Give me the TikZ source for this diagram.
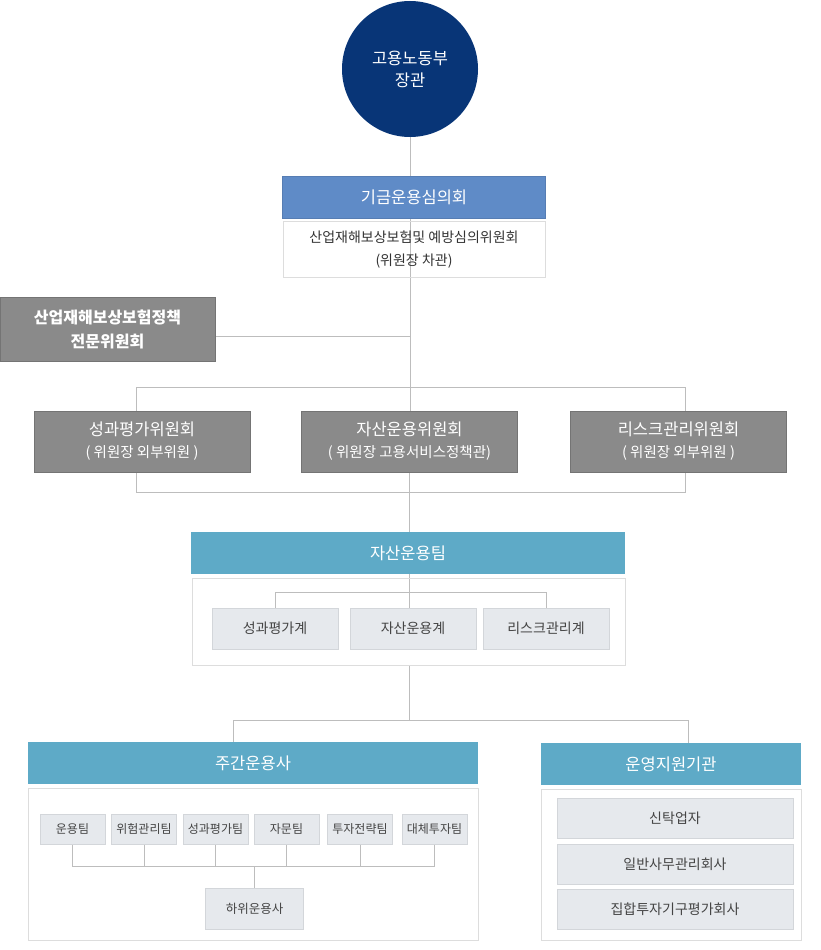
\documentclass[tikz,border=0pt]{standalone}
\usepackage{fontspec}
\setmainfont{Noto Sans CJK KR}
\usetikzlibrary{backgrounds}
\definecolor{navy}{HTML}{083577}
\definecolor{fundblue}{HTML}{5F8BC7}
\definecolor{boxgray}{HTML}{8A8A8A}
\definecolor{edgegray}{HTML}{747474}
\definecolor{tealhead}{HTML}{5EAAC7}
\definecolor{paleface}{HTML}{E6E9ED}
\definecolor{paleedge}{HTML}{D3D6DA}
\definecolor{frameedge}{HTML}{DDDDDD}
\definecolor{linegray}{HTML}{BDBDBD}
\definecolor{textgray}{HTML}{444444}
\begin{document}
\begin{tikzpicture}[x=1pt,y=-1pt,
  head/.style={rectangle,text=white,inner sep=0pt,minimum height=42pt,font=\fontsize{16.5}{20}\selectfont},
  graybox/.style={rectangle,fill=boxgray,draw=edgegray,text=white,align=center,inner sep=0pt,font=\fontsize{16.5}{22}\selectfont},
  framebox/.style={rectangle,draw=frameedge,inner sep=0pt},
  palebox/.style={rectangle,fill=paleface,draw=paleedge,text=textgray,inner sep=0pt,font=\fontsize{14}{16}\selectfont},
  link/.style={draw=linegray,line width=1pt}]
\useasboundingbox (0,0) rectangle (820,950);
\node[circle,fill=navy,minimum size=136pt,inner sep=0pt,text=white,align=center,font=\fontsize{16.5}{22}\selectfont] (minister) at (410,69) {고용노동부\\장관};
\node[head,fill=fundblue,draw=fundblue!90!black,minimum width=263pt] (fund) at (414,197) {기금운용심의회};
\node[framebox,minimum width=262pt,minimum height=56pt,align=center,text=black!80,font=\fontsize{14}{23}\selectfont] (fundsub) at (414,249.5) {산업재해보상보험및 예방심의위원회\\(위원장 차관)};
\node[graybox,font=\fontsize{16}{24}\selectfont\bfseries,minimum width=215pt,minimum height=64pt] (policy) at (107.5,329.5) {산업재해보상보험정책\\전문위원회};
% committees
\node[graybox,minimum width=216pt,minimum height=61pt] (evalc) at (142,441.5) {성과평가위원회\\{\fontsize{14.5}{22}\selectfont ( 위원장 외부위원 )}};
\node[graybox,minimum width=216pt,minimum height=61pt] (assetc) at (409.5,441.5) {자산운용위원회\\{\fontsize{14.5}{22}\selectfont ( 위원장 고용서비스정책관)}};
\node[graybox,minimum width=216pt,minimum height=61pt] (riskc) at (678.5,441.5) {리스크관리위원회\\{\fontsize{14.5}{22}\selectfont ( 위원장 외부위원 )}};
% asset team
\node[head,fill=tealhead,minimum width=434pt] (assetteam) at (408,553) {자산운용팀};
\node[framebox,minimum width=433pt,minimum height=87pt] (teamsub) at (408.5,621.5) {};
\node[palebox,minimum width=126pt,minimum height=41pt] (evalg) at (275,628.5) {성과평가계};
\node[palebox,minimum width=126pt,minimum height=41pt] (assetg) at (413,628.5) {자산운용계};
\node[palebox,minimum width=126pt,minimum height=41pt] (riskg) at (546,628.5) {리스크관리계};
% managers
\node[head,fill=tealhead,minimum width=450pt] (mainmgr) at (253,763) {주간운용사};
\node[head,fill=tealhead,minimum width=260pt] (support) at (671,764) {운영지원기관};
\node[framebox,minimum width=450pt,minimum height=152pt] (mainsub) at (253,864) {};
\node[framebox,minimum width=260pt,minimum height=151pt] (supportsub) at (671,864.5) {};
\node[palebox,font=\fontsize{12}{14}\selectfont,minimum width=65pt,minimum height=30pt] (opteam) at (72.5,829) {운용팀};
\node[palebox,font=\fontsize{12}{14}\selectfont,minimum width=65pt,minimum height=30pt] (riskteam) at (144,829) {위험관리팀};
\node[palebox,font=\fontsize{12}{14}\selectfont,minimum width=65pt,minimum height=30pt] (evalteam) at (215.5,829) {성과평가팀};
\node[palebox,font=\fontsize{12}{14}\selectfont,minimum width=65pt,minimum height=30pt] (advteam) at (286.5,829) {자문팀};
\node[palebox,font=\fontsize{12}{14}\selectfont,minimum width=65pt,minimum height=30pt] (stratteam) at (360,829) {투자전략팀};
\node[palebox,font=\fontsize{12}{14}\selectfont,minimum width=65pt,minimum height=30pt] (altteam) at (434.5,829) {대체투자팀};
\node[palebox,font=\fontsize{12.5}{14}\selectfont,minimum width=98pt,minimum height=41pt] (subco) at (254.5,908.5) {하위운용사};
\node[palebox,minimum width=236pt,minimum height=40pt] (trustee) at (675,818) {신탁업자};
\node[palebox,minimum width=236pt,minimum height=40pt] (admin) at (675,864) {일반사무관리회사};
\node[palebox,minimum width=236pt,minimum height=40pt] (rating) at (675,909) {집합투자기구평가회사};
% connectors
\begin{scope}[on background layer]
\draw[link] (minister) -- (minister |- assetc.north);
\draw[link] ([yshift=-6.5pt]policy.east) -- ([yshift=-6.5pt]policy.east -| minister);
\draw[link] ([xshift=-6pt]evalc.north) -- ++(0,-23) -| ([xshift=7pt]riskc.north);
\draw[link] ([xshift=-6pt]evalc.south) -- ++(0,20) -| ([xshift=7pt]riskc.south);
\draw[link] (assetc) -- (assetc |- assetg.north);
\draw[link] (evalg.north) -- ++(0,-15) -| (riskg.north);
\draw[link] (assetc |- teamsub.south) -- ++(0,55) coordinate (lowbus);
\draw[link] ([xshift=-20pt]mainmgr.north) |- (lowbus) -| ([xshift=17pt]support.north);
\draw[link] (opteam.south) -- ++(0,22) -| (altteam.south);
\draw[link] (riskteam.south) -- ++(0,22);
\draw[link] (evalteam.south) -- ++(0,22);
\draw[link] (advteam.south) -- ++(0,22);
\draw[link] (stratteam.south) -- ++(0,22);
\draw[link] (subco.north) -- ++(0,-22);
\end{scope}
\end{tikzpicture}
\end{document}
